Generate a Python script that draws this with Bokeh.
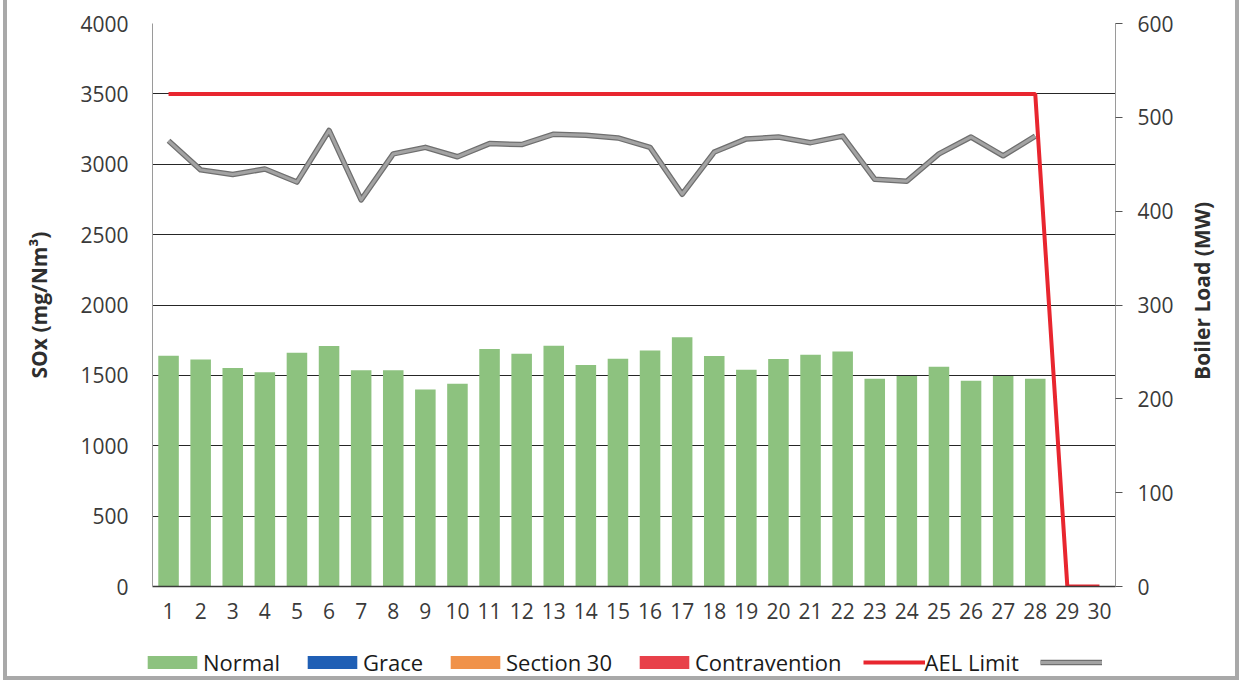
import math
from bokeh.plotting import figure
from bokeh.layouts import row, column
from bokeh.models import (ColumnDataSource, FactorRange, Range1d, LinearAxis, Legend,
                          LegendItem, SingleIntervalTicker, Label)
from bokeh.embed import file_html
from bokeh.resources import INLINE

# ---------------- data ----------------
days = ["1", "2", "3", "4", "5", "6", "7", "8", "9", "10",
        "11", "12", "13", "14", "15", "16", "17", "18", "19", "20",
        "21", "22", "23", "24", "25", "26", "27", "28", "29", "30"]
normal = [1640, 1613, 1553, 1523, 1660, 1708, 1537, 1537, 1400, 1440,
          1687, 1653, 1710, 1573, 1618, 1677, 1770, 1637, 1540, 1616,
          1646, 1670, 1476, 1495, 1561, 1461, 1495, 1476, 0, 0]
grace = [0, 0, 0, 0, 0, 0, 0, 0, 0, 0, 0, 0, 0, 0, 0,
         0, 0, 0, 0, 0, 0, 0, 0, 0, 0, 0, 0, 0, 0, 0]
section30 = [0, 0, 0, 0, 0, 0, 0, 0, 0, 0, 0, 0, 0, 0, 0,
             0, 0, 0, 0, 0, 0, 0, 0, 0, 0, 0, 0, 0, 0, 0]
contravention = [0, 0, 0, 0, 0, 0, 0, 0, 0, 0, 0, 0, 0, 0, 0,
                 0, 0, 0, 0, 0, 0, 0, 0, 0, 0, 0, 0, 0, 0, 0]
ael_limit = [3500, 3500, 3500, 3500, 3500, 3500, 3500, 3500, 3500, 3500,
             3500, 3500, 3500, 3500, 3500, 3500, 3500, 3500, 3500, 3500,
             3500, 3500, 3500, 3500, 3500, 3500, 3500, 3500, 0, 0]
load_days = ["1", "2", "3", "4", "5", "6", "7", "8", "9", "10",
             "11", "12", "13", "14", "15", "16", "17", "18", "19", "20",
             "21", "22", "23", "24", "25", "26", "27", "28"]
boiler_load = [475, 444, 439, 445, 431, 486, 412, 461, 468, 458,
               472, 471, 482, 481, 478, 468, 418, 463, 477, 479,
               473, 480, 434, 432, 461, 479, 459, 480]

series_names = ["Normal", "Grace", "Section 30", "Contravention"]
series_cols = ["normal", "grace", "section30", "contravention"]
series_colors = ["#8DC27F", "#1F5FB5", "#F0924A", "#E8414A"]
AEL_COLOR = "#E8262F"
LOAD_DARK = "#6f6f6f"
LOAD_LIGHT = "#a3a3a3"

FONT = "Open Sans"
TICK_COLOR = "#3a3a3a"
TITLE_COLOR = "#2e2e2e"

src = ColumnDataSource(dict(day=days, normal=normal, grace=grace,
                            section30=section30, contravention=contravention,
                            ael=ael_limit))
load_src = ColumnDataSource(dict(day=load_days, load=boiler_load))

x_range = FactorRange(*days)

# ---------------- main chart ----------------
p = figure(x_range=x_range, y_range=Range1d(0, 4000),
           width=1180, height=640, output_backend="svg", toolbar_location=None,
           min_border_left=152, min_border_right=65, min_border_top=23,
           min_border_bottom=54)
p.extra_y_ranges = {"mw": Range1d(0, 600)}
p.outline_line_color = None
p.background_fill_color = "white"
p.border_fill_color = None

p.xgrid.grid_line_color = None
p.ygrid.ticker = SingleIntervalTicker(interval=500)
p.ygrid.grid_line_color = "#262626"
p.ygrid.grid_line_width = 1

ya = p.yaxis[0]
ya.ticker = SingleIntervalTicker(interval=500)
ya.axis_line_color = "#9a9a9a"
ya.major_tick_line_color = None
ya.minor_tick_line_color = None
ya.major_label_standoff = 18
ya.major_label_text_font = FONT
ya.major_label_text_font_size = "21px"
ya.major_label_text_color = TICK_COLOR
ya.axis_label = "SOx (mg/Nm³)"
ya.axis_label_text_font = FONT
ya.axis_label_text_font_size = "21px"
ya.axis_label_text_font_style = "bold"
ya.axis_label_text_color = TITLE_COLOR
ya.axis_label_standoff = 24

xa = p.xaxis[0]
xa.axis_line_color = "#3a3a3a"
xa.axis_line_width = 1.5
xa.major_tick_line_color = None
xa.minor_tick_line_color = None
xa.major_label_standoff = 10
xa.major_label_text_font = FONT
xa.major_label_text_font_size = "21px"
xa.major_label_text_color = TICK_COLOR

ra = LinearAxis(y_range_name="mw", ticker=SingleIntervalTicker(interval=100))
ra.axis_line_color = "#9a9a9a"
ra.major_tick_in = 0
ra.major_tick_out = 7
ra.major_tick_line_color = "#555555"
ra.minor_tick_line_color = None
ra.major_label_standoff = 15
ra.major_label_text_font = FONT
ra.major_label_text_font_size = "21px"
ra.major_label_text_color = TICK_COLOR
p.add_layout(ra, "right")

p.vbar_stack(series_cols, x="day", width=0.64, source=src,
             fill_color=series_colors, line_color=None)
p.line("day", "load", source=load_src, y_range_name="mw",
       line_color=LOAD_DARK, line_width=5.5, line_join="round")
p.line("day", "load", source=load_src, y_range_name="mw",
       line_color=LOAD_LIGHT, line_width=3, line_join="round")
p.line("day", "ael", source=src, line_color=AEL_COLOR, line_width=4)

# ---------------- right axis title ----------------
tf = figure(width=63, height=640, x_range=Range1d(0, 63), y_range=Range1d(0, 640),
            output_backend="svg", toolbar_location=None, min_border=0,
            x_axis_location=None, y_axis_location=None)
tf.grid.visible = False
tf.outline_line_color = None
tf.background_fill_color = None
tf.border_fill_color = None
tf.add_layout(Label(x=21, y=336, text="Boiler Load (MW)", angle=math.pi / 2,
                    text_align="center", text_baseline="middle",
                    text_font=FONT, text_font_size="21px",
                    text_font_style="bold", text_color=TITLE_COLOR))

# ---------------- legend strip (hidden proxies of the same series) ----------------
lf = figure(width=1243, height=44, x_range=x_range, y_range=Range1d(0, 4000),
            output_backend="svg", toolbar_location=None, min_border=0,
            x_axis_location=None, y_axis_location=None)
lf.extra_y_ranges = {"mw": Range1d(0, 600)}
lf.grid.visible = False
lf.outline_line_color = None
lf.background_fill_color = None
lf.border_fill_color = None

proxy_bars = lf.vbar_stack(series_cols, x="day", width=0.64, source=src,
                           fill_color=series_colors, line_color=None)
for r in proxy_bars:
    r.visible = False
items = [LegendItem(label=n, renderers=[r]) for n, r in zip(series_names, proxy_bars)]
r_ael = lf.line("day", "ael", source=src, line_color=AEL_COLOR, line_width=4,
                visible=False)
items.append(LegendItem(label="AEL Limit", renderers=[r_ael]))
r_g1 = lf.line("day", "load", source=load_src, y_range_name="mw",
               line_color=LOAD_DARK, line_width=5.5, visible=False)
r_g2 = lf.line("day", "load", source=load_src, y_range_name="mw",
               line_color=LOAD_LIGHT, line_width=3, visible=False)
items.append(LegendItem(label="", renderers=[r_g1, r_g2]))

legend = Legend(items=items, orientation="horizontal", location=(141, 7),
                glyph_width=62, glyph_height=16, label_standoff=0, spacing=21,
                padding=0, margin=0, border_line_color=None,
                background_fill_alpha=0, inactive_fill_alpha=0,
                label_text_font=FONT, label_text_font_size="22px",
                label_text_color="#1a1a1a")
lf.add_layout(legend)

layout = column(row(p, tf, spacing=0), lf, spacing=0)
layout.styles = {"background-color": "white",
                 "box-shadow": ("inset 3px 0 0 #ffffff, inset -4px 0 0 #ffffff, "
                                "inset 0 -4px 0 #ffffff, inset 7px 0 0 #a9a9a9, "
                                "inset -8px 0 0 #a9a9a9, inset 0 -8px 0 #a9a9a9")}

open("out.html", "w").write(file_html(layout, INLINE))
